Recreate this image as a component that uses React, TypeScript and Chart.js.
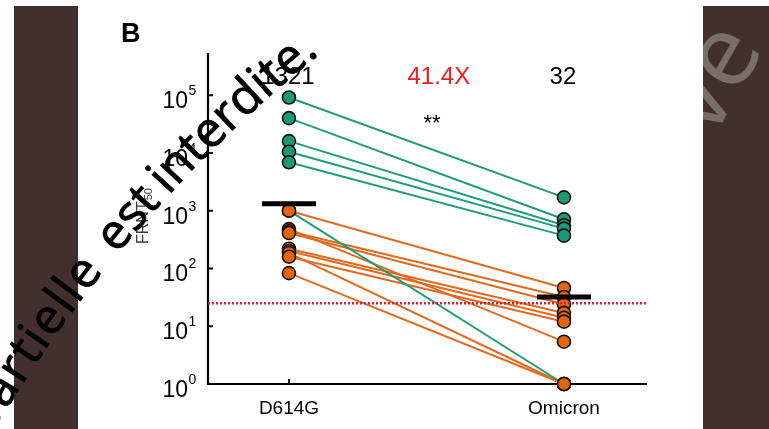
import { useEffect, useRef } from 'react';
import { Chart, registerables } from 'chart.js';

Chart.register(...registerables);

// Paired FRNT50 titres, one entry per subject (D614G -> Omicron)
const categories = ['D614G', 'Omicron'];
const greenD614G = [91000, 40000, 16000, 10500, 6900, 1000];
const greenOmicron = [1700, 710, 560, 490, 370, 1];
const orangeD614G = [1000, 480, 440, 410, 220, 200, 185, 160, 83];
const orangeOmicron = [46, 5.4, 32, 24, 17, 14, 1, 12, 1];
const geoMeans = [1321, 32];
const meanLabels = ['1321', '32'];
const foldLabel = '41.4X';
const sigLabel = '**';
const detectionLimit = 25;
const yTickExponents = [0, 1, 2, 3, 4, 5];
const panelLetter = 'B';
const watermarkWords = ['partielle', 'est', 'interdite.'];

const Y_MIN = 1;
const Y_MAX = Math.pow(10, 5.73);

const FONT = '"Liberation Sans", Arial, Helvetica, sans-serif';
const GREEN_LINE = '#1f9d77';
const GREEN_POINT = '#1b9a74';
const ORANGE_LINE = '#e3691e';
const ORANGE_POINT = '#e8640c';
const BAND = '#41302d';

function pairs(a: number[], b: number[]) {
  return a.map((v, i) => [
    { x: 0, y: v },
    { x: 1, y: b[i] },
  ]);
}

function pointsOf(a: number[], b: number[]) {
  return [...a.map((v) => ({ x: 0, y: v })), ...b.map((v) => ({ x: 1, y: v }))];
}

// Sets words along a circular arc, ending at endAngle (letters face outward).
function drawArcWords(
  ctx: CanvasRenderingContext2D,
  words: string[],
  cx: number,
  cy: number,
  r: number,
  endAngle: number,
  wordGaps: number[],
  firstWordTracking: number
) {
  const glyphs: { ch: string; adv: number }[] = [];
  const space = ctx.measureText(' ').width;
  words.forEach((word, wi) => {
    for (const ch of word) {
      glyphs.push({ ch, adv: ctx.measureText(ch).width + (wi === 0 ? firstWordTracking : 0) });
    }
    if (wi < words.length - 1) glyphs.push({ ch: ' ', adv: space + (wordGaps[wi] || 0) });
  });
  const total = glyphs.reduce((s, g) => s + g.adv, 0);
  let phi = endAngle - total / r;
  for (const g of glyphs) {
    if (g.ch !== ' ') {
      ctx.save();
      ctx.translate(cx + r * Math.cos(phi), cy + r * Math.sin(phi));
      ctx.rotate(phi + Math.PI / 2);
      ctx.fillText(g.ch, 0, 0);
      ctx.strokeText(g.ch, 0, 0);
      ctx.restore();
    }
    phi += g.adv / r;
  }
}

const decorPlugin = {
  id: 'decor',
  beforeDraw(chart: any) {
    const { ctx, width, height } = chart;
    ctx.save();
    ctx.fillStyle = '#ffffff';
    ctx.fillRect(0, 0, width, height);
    ctx.fillStyle = BAND;
    ctx.fillRect(14, 6, 64, height - 6);
    ctx.fillRect(703, 6, width - 703, height - 6);
    // faint lettering across the right band
    ctx.beginPath();
    ctx.rect(703, 6, width - 703, height - 6);
    ctx.clip();
    ctx.fillStyle = 'rgba(255,255,255,0.3)';
    ctx.font = '100px "Open Sans", sans-serif';
    ctx.translate(712, 140);
    ctx.rotate(-1.05);
    ctx.fillText('vé', 0, 0);
    ctx.restore();
  },
  beforeDatasetsDraw(chart: any) {
    const { ctx, chartArea } = chart;
    const xs = chart.scales.x;
    const ys = chart.scales.y;
    ctx.save();
    ctx.strokeStyle = '#000';
    ctx.lineWidth = 2.2;
    ctx.beginPath();
    ctx.moveTo(chartArea.left, chartArea.top);
    ctx.lineTo(chartArea.left, chartArea.bottom);
    ctx.lineTo(chartArea.right, chartArea.bottom);
    ctx.stroke();
    ctx.lineWidth = 2;
    ctx.beginPath();
    for (const e of yTickExponents) {
      const y = ys.getPixelForValue(Math.pow(10, e));
      ctx.moveTo(chartArea.left, y);
      ctx.lineTo(chartArea.left + 5, y);
    }
    categories.forEach((_, i) => {
      const x = xs.getPixelForValue(i);
      ctx.moveTo(x, chartArea.bottom);
      ctx.lineTo(x, chartArea.bottom - 5);
    });
    ctx.stroke();
    ctx.restore();
  },
  afterDatasetsDraw(chart: any) {
    const { ctx, chartArea } = chart;
    const y = chart.scales.y.getPixelForValue(detectionLimit);
    ctx.save();
    ctx.strokeStyle = '#e3192f';
    ctx.lineWidth = 2.4;
    ctx.setLineDash([2, 2]);
    ctx.beginPath();
    ctx.moveTo(chartArea.left, y);
    ctx.lineTo(chartArea.right, y);
    ctx.stroke();
    ctx.restore();
  },
  afterDraw(chart: any) {
    const { ctx, chartArea } = chart;
    const xs = chart.scales.x;
    const ys = chart.scales.y;
    ctx.save();
    ctx.fillStyle = '#000';

    // y tick labels as powers of ten
    for (const e of yTickExponents) {
      const y = ys.getPixelForValue(Math.pow(10, e));
      ctx.font = `23px ${FONT}`;
      ctx.textAlign = 'right';
      ctx.textBaseline = 'alphabetic';
      ctx.fillText('10', 188, y + 13);
      ctx.font = `14px ${FONT}`;
      ctx.textAlign = 'left';
      ctx.fillText(String(e), 188.5, y);
    }

    // category labels
    ctx.font = `19px ${FONT}`;
    ctx.textAlign = 'center';
    categories.forEach((c, i) => {
      ctx.fillText(c, xs.getPixelForValue(i), chartArea.bottom + 30);
    });

    // geometric means and fold change
    ctx.font = `24px ${FONT}`;
    meanLabels.forEach((t, i) => {
      ctx.fillText(t, xs.getPixelForValue(i) - 1, chartArea.top + 31);
    });
    ctx.fillStyle = '#f01a1a';
    ctx.fillText(foldLabel, xs.getPixelForValue(0.545), chartArea.top + 31);
    ctx.fillStyle = '#000';
    ctx.font = `22px ${FONT}`;
    ctx.fillText(sigLabel, xs.getPixelForValue(0.52), chartArea.top + 77);

    // panel letter
    ctx.font = `bold 27px ${FONT}`;
    ctx.textAlign = 'left';
    ctx.fillText(panelLetter, 121, 42);

    // y axis title: FRNT50
    ctx.save();
    ctx.fillStyle = '#3a3a3a';
    ctx.translate(148, 244);
    ctx.rotate(-Math.PI / 2);
    ctx.font = `16px ${FONT}`;
    ctx.textAlign = 'left';
    ctx.fillText('FRNT', 0, 0);
    const w = ctx.measureText('FRNT').width;
    ctx.font = `11px ${FONT}`;
    ctx.fillText('50', w + 1, 4);
    ctx.restore();

    // overlaid notice lettering, set along a wide arc
    ctx.fillStyle = '#000';
    ctx.strokeStyle = '#000';
    ctx.lineWidth = 0.9;
    ctx.font = `49px "Open Sans", "DejaVu Sans", sans-serif`;
    ctx.textAlign = 'left';
    const cx = 1205;
    const cy = 1150;
    const r = 1409;
    const endAngle = Math.atan2(58 - cy, 315 - cx) + 6.4 / r;
    drawArcWords(ctx, watermarkWords, cx, cy, r, endAngle, [7, -3], 1.8);
    ctx.restore();
  },
};

export default function App() {
  const ref = useRef<HTMLCanvasElement | null>(null);

  useEffect(() => {
    if (!ref.current) return;
    const orangeLines = pairs(orangeD614G, orangeOmicron).map((d) => ({
      type: 'line' as const,
      data: d,
      borderColor: ORANGE_LINE,
      borderWidth: 2,
      pointRadius: 0,
      clip: false as any,
      order: 4,
    }));
    const greenLines = pairs(greenD614G, greenOmicron).map((d) => ({
      type: 'line' as const,
      data: d,
      borderColor: GREEN_LINE,
      borderWidth: 2,
      pointRadius: 0,
      clip: false as any,
      order: 3,
    }));
    const chart = new Chart(ref.current, {
      type: 'line',
      data: {
        datasets: [
          ...orangeLines,
          ...greenLines,
          {
            type: 'line',
            data: pointsOf(greenD614G, greenOmicron),
            showLine: false,
            pointRadius: 6.5,
            pointBackgroundColor: GREEN_POINT,
            pointBorderColor: '#111',
            pointBorderWidth: 1.6,
            clip: false as any,
            order: 2,
          },
          {
            type: 'line',
            data: pointsOf(orangeD614G, orangeOmicron),
            showLine: false,
            pointRadius: 6.5,
            pointBackgroundColor: ORANGE_POINT,
            pointBorderColor: '#111',
            pointBorderWidth: 1.6,
            clip: false as any,
            order: 1,
          },
          {
            type: 'line',
            data: geoMeans.map((v, i) => ({ x: i, y: v })),
            showLine: false,
            pointStyle: 'line',
            pointRadius: 27,
            pointBorderColor: '#000',
            pointBorderWidth: 5,
            clip: false as any,
            order: 0,
          },
        ] as any,
      },
      options: {
        responsive: false,
        devicePixelRatio: 1,
        animation: false,
        events: [],
        layout: { padding: { left: 208, right: 122, top: 53, bottom: 45 } },
        plugins: {
          legend: { display: false },
          tooltip: { enabled: false },
        },
        scales: {
          x: { type: 'linear', min: -0.2945, max: 1.302, display: false },
          y: { type: 'logarithmic', min: Y_MIN, max: Y_MAX, display: false },
        },
      },
      plugins: [decorPlugin],
    });
    return () => chart.destroy();
  }, []);

  return (
    <div style={{ position: 'fixed', left: 0, top: 0, width: 769, height: 429 }}>
      <canvas ref={ref} width={769} height={429} style={{ display: 'block' }} />
    </div>
  );
}
